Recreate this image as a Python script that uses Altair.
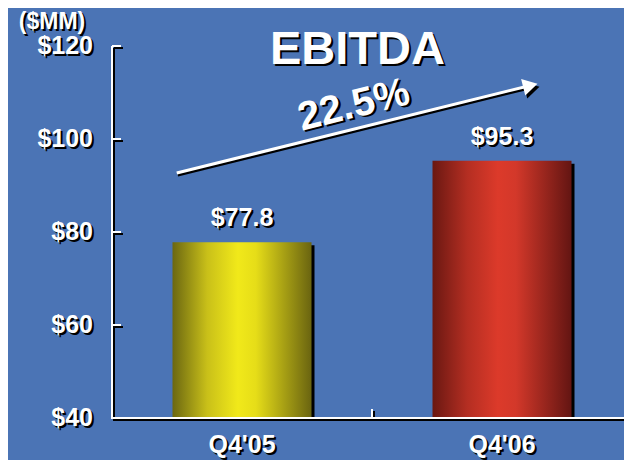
import altair as alt
import pandas as pd

# ---- data ----
categories = ["Q4'05", "Q4'06"]
positions = [0, 1]
ebitda = [77.8, 95.3]
value_labels = ["$77.8", "$95.3"]
y_ticks = [40, 60, 80, 100, 120]
y_tick_labels = ["$40", "$60", "$80", "$100", "$120"]
unit_label = ["($MM)"]
title_text = ["EBITDA"]
growth_label = ["22.5%"]
arrow_x = [-0.251, 1.109]
arrow_y = [92.7, 111.5]

# ---- style ----
FONT = "Liberation Sans"
BG = "#4b74b5"
X_DOMAIN = [-0.5, 1.45]
Y_DOMAIN = [40, 120]
BAR_W = 139

xs = alt.Scale(domain=X_DOMAIN, nice=False, zero=False)
ys = alt.Scale(domain=Y_DOMAIN, nice=False, zero=False)

yellow = alt.Gradient(
    gradient="linear", x1=0, x2=1, y1=0, y2=0,
    stops=[alt.GradientStop(color="#6b6711", offset=0),
           alt.GradientStop(color="#c9c019", offset=0.25),
           alt.GradientStop(color="#f1e91a", offset=0.47),
           alt.GradientStop(color="#e6dd18", offset=0.6),
           alt.GradientStop(color="#6a6410", offset=1)])
red = alt.Gradient(
    gradient="linear", x1=0, x2=1, y1=0, y2=0,
    stops=[alt.GradientStop(color="#6a1812", offset=0),
           alt.GradientStop(color="#b42e22", offset=0.25),
           alt.GradientStop(color="#dc3a2a", offset=0.47),
           alt.GradientStop(color="#d3382a", offset=0.6),
           alt.GradientStop(color="#631512", offset=1)])

bars_df = pd.DataFrame({"pos": positions, "cat": categories, "v": ebitda, "lbl": value_labels})
ticks_df = pd.DataFrame({"t": y_ticks, "lbl": y_tick_labels})
arrow_df = pd.DataFrame({"x": arrow_x, "y": arrow_y, "o": [0, 1]})
unit_df = pd.DataFrame({"t": unit_label})
title_df = pd.DataFrame({"t": title_text})


def X(field=None, datum=None):
    if datum is not None:
        return alt.X(datum=datum, scale=xs, axis=None)
    return alt.X(field, scale=xs, axis=None)


def Y(field=None, datum=None):
    if datum is not None:
        return alt.Y(datum=datum, scale=ys, axis=None)
    return alt.Y(field, scale=ys, axis=None)


base_bar = alt.Chart(bars_df)
bar_shadow = base_bar.mark_bar(color="black", size=BAR_W, xOffset=3, yOffset=3, y2Offset=3).encode(
    x=X("pos:Q"), y=Y("v:Q"), y2=alt.Y2(datum=40))
bar_y = base_bar.transform_filter("datum.pos == 0").mark_bar(color=yellow, size=BAR_W).encode(
    x=X("pos:Q"), y=Y("v:Q"), y2=alt.Y2(datum=40))
bar_r = base_bar.transform_filter("datum.pos == 1").mark_bar(color=red, size=BAR_W).encode(
    x=X("pos:Q"), y=Y("v:Q"), y2=alt.Y2(datum=40))


def axis_layers(color, off):
    yaxis = alt.Chart(bars_df).mark_rule(color=color, strokeWidth=2, xOffset=off, yOffset=off, y2Offset=off).encode(
        x=X(datum=X_DOMAIN[0]), y=Y(datum=Y_DOMAIN[1]), y2=alt.Y2(datum=Y_DOMAIN[0]))
    xaxis = alt.Chart(bars_df).mark_rule(color=color, strokeWidth=2, yOffset=off, xOffset=off - 1, x2Offset=10).encode(
        x=X(datum=X_DOMAIN[0]), x2=alt.X2(datum=X_DOMAIN[1]), y=Y(datum=Y_DOMAIN[0]))
    yt = alt.Chart(ticks_df).mark_rule(color=color, strokeWidth=2, xOffset=off, x2Offset=9 + off, yOffset=off).encode(
        x=X(datum=X_DOMAIN[0]), x2=alt.X2(datum=X_DOMAIN[0]), y=Y("t:Q"))
    mt = alt.Chart(bars_df).mark_rule(color=color, strokeWidth=2, xOffset=off, yOffset=off, y2Offset=-9 + off).encode(
        x=X(datum=0.5), y=Y(datum=Y_DOMAIN[0]), y2=alt.Y2(datum=Y_DOMAIN[0]))
    return [yaxis, xaxis, yt, mt]


def txt(chart, enc, color, sh, **kw):
    dx = kw.pop("dx", 0)
    dy = kw.pop("dy", 0)
    return chart.mark_text(color=color, font=FONT, fontWeight="bold", dx=dx + sh, dy=dy + sh, **kw).encode(**enc)


text_layers = []
for color, sh in (("black", 2), ("white", 0)):
    text_layers += [
        txt(alt.Chart(ticks_df), dict(x=X(datum=X_DOMAIN[0]), y=Y("t:Q"), text="lbl:N"), color, sh,
            align="right", baseline="middle", dx=-19, fontSize=25),
        txt(alt.Chart(bars_df), dict(x=X("pos:Q"), y=Y(datum=Y_DOMAIN[0]), text="cat:N"), color, sh,
            align="center", baseline="alphabetic", dy=35, fontSize=25),
        txt(alt.Chart(bars_df), dict(x=X("pos:Q"), y=Y("v:Q"), text="lbl:N"), color, sh,
            align="center", baseline="alphabetic", dy=-16, fontSize=25),
        txt(alt.Chart(unit_df), dict(x=X(datum=X_DOMAIN[0]), y=Y(datum=Y_DOMAIN[1]), text="t:N"), color, sh,
            align="center", baseline="alphabetic", dx=-60, dy=-17, fontSize=23),
        txt(alt.Chart(title_df), dict(x=X(datum=0.44), y=Y(datum=116.3), text="t:N"), color, sh + 1,
            align="center", baseline="alphabetic", fontSize=47),
    ]

arrow_line_sh = alt.Chart(arrow_df).mark_line(color="black", strokeWidth=3, xOffset=1, yOffset=2).encode(
    x=X("x:Q"), y=Y("y:Q"), order="o:Q")
arrow_line = alt.Chart(arrow_df).mark_line(color="white", strokeWidth=3).encode(
    x=X("x:Q"), y=Y("y:Q"), order="o:Q")
head_sh = alt.Chart(arrow_df).transform_filter("datum.o == 1").mark_point(
    shape="triangle-right", filled=True, color="black", opacity=1, size=289, angle=346, xOffset=2, yOffset=3).encode(
    x=X("x:Q"), y=Y("y:Q"))
head = alt.Chart(arrow_df).transform_filter("datum.o == 1").mark_point(
    shape="triangle-right", filled=True, color="white", opacity=1, size=289, angle=346).encode(
    x=X("x:Q"), y=Y("y:Q"))

growth_layers = []
for color, sh in (("black", 2), ("white", 0)):
    growth_layers.append(
        alt.Chart(arrow_df).transform_aggregate(mx="mean(x)", my="mean(y)").transform_calculate(
            t="'" + growth_label[0] + "'").mark_text(
            color=color, font=FONT, fontWeight="bold", fontSize=40, angle=346, align="center",
            baseline="middle", dx=6 + sh, dy=-23 + sh).encode(x=X("mx:Q"), y=Y("my:Q"), text="t:N"))

layers = ([bar_shadow, bar_y, bar_r] + axis_layers("black", 2) + axis_layers("white", 0)
          + [arrow_line_sh, arrow_line, head_sh, head] + growth_layers + text_layers)

chart = alt.layer(*layers).properties(
    width=517, height=372,
    padding={"left": 99, "top": 38, "right": 0, "bottom": 42},
    autosize=alt.AutoSizeParams(type="none"),
).configure(background=BG).configure_view(strokeWidth=0)

chart.save("out.html", embed_options={"renderer": "svg", "actions": False})
